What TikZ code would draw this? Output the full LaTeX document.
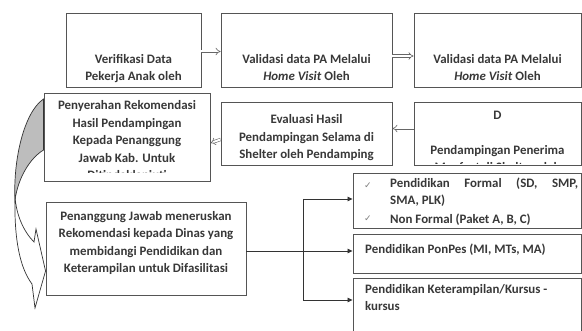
\documentclass[tikz,border=0pt]{standalone}
\usepackage{fontspec}
\setmainfont{Carlito}
\newfontfamily\symfont{DejaVu Sans}
\usetikzlibrary{arrows.meta}
\definecolor{boxc}{HTML}{555555}
\definecolor{txtc}{HTML}{383838}
\definecolor{linec}{HTML}{333333}
\definecolor{dblc}{HTML}{666666}
\definecolor{bandc}{HTML}{BDBDBD}
\begin{document}
\begin{tikzpicture}[x=1pt,y=-1pt,
 box/.style={draw=boxc, line width=0.9pt, fill=white, inner sep=0pt},
 txt/.style={text=txtc, font=\bfseries\fontsize{12.9}{17.5}\selectfont, align=center, inner sep=0pt},
 ltxt/.style={txt, align=left},
 conn/.style={draw=linec, line width=0.8pt},
 arr/.style={conn, -{Triangle[length=5pt,width=4.5pt]}},
 dbl/.style={draw=dblc, double, double distance=2pt, line width=0.6pt, -{Implies}},
 chk/.style={text=gray, font=\symfont\fontsize{9}{10}\selectfont, inner sep=0pt}
]
\clip (0,0) rectangle (582,331);
\fill[white] (0,0) rectangle (582,331);

% boxes
\node[box, minimum width=135pt, minimum height=74pt] (b1) at (133.5,50) {};
\node[box, minimum width=171pt, minimum height=74pt] (b2) at (306.5,50) {};
\node[box, minimum width=167pt, minimum height=74pt] (b3) at (497.5,50) {};
\node[box, minimum width=166pt, minimum height=88pt] (b4) at (127,137) {};
\node[box, minimum width=171pt, minimum height=63pt] (b5) at (306.5,133.5) {};
\node[box, minimum width=167pt, minimum height=63pt] (b6) at (497.5,133.5) {};
\node[box, minimum width=200pt, minimum height=93pt] (b7) at (146,248.5) {};
\node[box, minimum width=228pt, minimum height=55pt] (b8) at (467,200.5) {};
\node[box, minimum width=228pt, minimum height=39pt] (b9) at (467,253.5) {};
\node[box, minimum width=228pt, minimum height=67pt] (b10) at (467,311.5) {};

% texts
\node[txt] (t1) at (133.5,68.5) {Verifikasi Data\\Pekerja Anak oleh};
\node[txt] (t2) at (306.5,67.5) {Validasi data PA Melalui\\\textit{Home Visit} Oleh};
\node[txt] (t3) at (497.5,67.5) {Validasi data PA Melalui\\\textit{Home Visit} Oleh};
\begin{scope}
\clip (45,94) rectangle (209,173);
\node[txt] (t4) at (127,141.5) {Penyerahan Rekomendasi\\Hasil Pendampingan\\Kepada Penanggung\\Jawab Kab. Untuk\\Ditindaklanjuti};
\end{scope}
\node[txt] (t5) at (306.5,138) {Evaluasi Hasil\\Pendampingan Selama di\\Shelter oleh Pendamping};
\begin{scope}
\clip (415,103) rectangle (580,163.5);
\node[txt] (t6) at (497.5,141.5) {D\\\strut\\Pendampingan Penerima\\Manfaat di Shelter oleh};
\end{scope}
\node[txt] (t7) at (146,243) {Penanggung Jawab meneruskan\\Rekomendasi kepada Dinas yang\\membidangi Pendidikan dan\\Keterampilan untuk Difasilitasi};
\node[chk] (c1) at (368,186) {✓};
\node[chk] (c2) at (368,219) {✓};
\node[ltxt, anchor=north west, text width=188pt, align=justify] (t8) at (390,177.5) {Pendidikan Formal (SD, SMP,\linebreak SMA, PLK)};
\node[ltxt, anchor=west] (t9) at (390,219.5) {Non Formal (Paket A, B, C)};
\node[ltxt, anchor=west] (t10) at (365,249.5) {Pendidikan PonPes (MI, MTs, MA)};
\node[ltxt, anchor=north west] (t11) at (365,284) {Pendidikan Keterampilan/Kursus -\\kursus};

% double arrows
\draw[dbl] ([yshift=-1.5pt]b1.east) -- ([yshift=-1.5pt]b2.west);
\draw[dbl] ([yshift=-6pt]b2.east) -- ([yshift=-6pt]b3.west);
\draw[dbl] ([yshift=5pt]b6.west) -- ([yshift=5pt]b5.east);
\draw[dbl] ([yshift=-6pt]b5.west) -- ([yshift=-6pt]b4.east);

% connectors
\coordinate (j) at (303,251);
\coordinate (j1) at (303,199);
\coordinate (j3) at (303,300);
\draw[conn] (b7.east |- j) -- (j);
\draw[conn] (j1) -- (j3);
\draw[arr] (j1) -- (j1 -| b8.west);
\draw[arr] (j) -- (j -| b9.west);
\draw[arr] (j3) -- (j3 -| b10.west);

% curved arrow
\draw[draw=linec, line width=0.7pt, fill=bandc]
  (b4.west |- 0,99) .. controls (24,112) and (13,160) .. (15,200)
  .. controls (18,178) and (30,158) .. (b4.west |- 0,150) -- cycle;
\draw[draw=linec, line width=0.7pt, fill=white]
  (15,196) .. controls (14,240) and (20,268) .. (32,284) -- (35,308)
  -- (b7.west |- 0,271) -- (36,229) -- (34,242)
  .. controls (24,232) and (16,215) .. (15,196) -- cycle;
\end{tikzpicture}
\end{document}
